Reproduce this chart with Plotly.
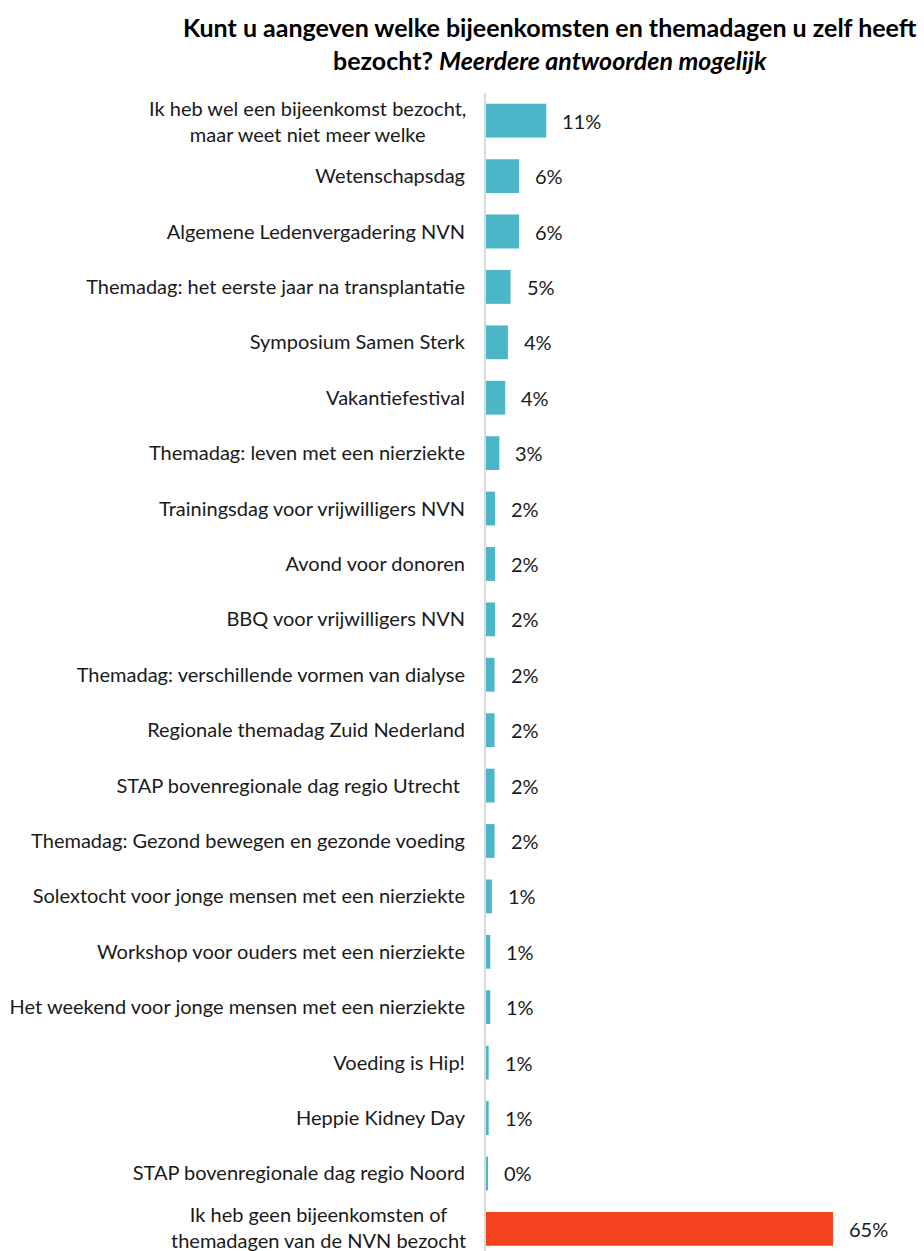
import plotly.graph_objects as go

categories = [
    "Ik heb wel een bijeenkomst bezocht,<br>maar weet niet meer welke",
    "Wetenschapsdag",
    "Algemene Ledenvergadering NVN",
    "Themadag: het eerste jaar na transplantatie",
    "Symposium Samen Sterk",
    "Vakantiefestival",
    "Themadag: leven met een nierziekte",
    "Trainingsdag voor vrijwilligers NVN",
    "Avond voor donoren",
    "BBQ voor vrijwilligers NVN",
    "Themadag: verschillende vormen van dialyse",
    "Regionale themadag Zuid Nederland",
    "STAP bovenregionale dag regio Utrecht ",
    "Themadag: Gezond bewegen en gezonde voeding",
    "Solextocht voor jonge mensen met een nierziekte",
    "Workshop voor ouders met een nierziekte",
    "Het weekend voor jonge mensen met een nierziekte",
    "Voeding is Hip!",
    "Heppie Kidney Day",
    "STAP bovenregionale dag regio Noord",
    "Ik heb geen bijeenkomsten of<br>themadagen van de NVN bezocht",
]
values = [11.3, 6.2, 6.2, 4.6, 4.1, 3.6, 2.5, 1.7, 1.7, 1.7, 1.6, 1.6, 1.6, 1.6,
          1.1, 0.8, 0.8, 0.5, 0.5, 0.3, 65.0]
pct_labels = ["11%", "6%", "6%", "5%", "4%", "4%", "3%", "2%", "2%", "2%", "2%",
              "2%", "2%", "2%", "1%", "1%", "1%", "1%", "1%", "0%", "65%"]
title_text = ("<b>Kunt u aangeven welke bijeenkomsten en themadagen u zelf heeft<br>"
              "bezocht? <i>Meerdere antwoorden mogelijk</i></b>")

TEAL = "#4BB6C7"
RED = "#F5431F"
colors = [TEAL] * (len(categories) - 1) + [RED]

FONT = "Lato"
TXT = "#1a1a1a"
multi = [c for c in categories if "<br>" in c]
ticktext = ["" if "<br>" in c else c for c in categories]

W, H = 924, 1251
ML, MT = 486, 93

fig = go.Figure(go.Bar(
    x=values, y=categories, orientation="h",
    marker=dict(color=colors, line=dict(width=0)),
    hoverinfo="skip",
))

annotations = []
for c, v, t in zip(categories, values, pct_labels):
    annotations.append(dict(x=v, y=c, xref="x", yref="y", text=t, showarrow=False,
                            xanchor="left", yanchor="middle", xshift=14,
                            font=dict(family=FONT, size=20, color=TXT)))
for i, c in enumerate(multi):
    annotations.append(dict(x=0, y=c, xref="paper", yref="y", text=c, showarrow=False,
                            xanchor="right", yanchor="middle", align="center", xshift=-18,
                            yshift=2 if i == len(multi) - 1 else 0,
                            font=dict(family=FONT, size=20, color=TXT)))
annotations.append(dict(x=(550 - ML) / (W - ML), y=1, xref="paper", yref="paper",
                        text=title_text, showarrow=False, xanchor="center",
                        yanchor="middle", align="center", yshift=50,
                        font=dict(family=FONT, size=25, color="#000000")))

fig.update_layout(
    width=W, height=H,
    margin=dict(l=ML, r=0, t=MT, b=0),
    paper_bgcolor="white", plot_bgcolor="white",
    bargap=0.39,
    showlegend=False,
    annotations=annotations,
    xaxis=dict(range=[0, 438 / 5.34], visible=False, fixedrange=True),
    yaxis=dict(
        type="category",
        range=[20.4, -0.5],
        tickmode="array", tickvals=categories, ticktext=ticktext,
        ticks="", showgrid=False, zeroline=False,
        showline=True, linecolor="#D9D9D9", linewidth=2,
        ticklabelstandoff=15,
        tickfont=dict(family=FONT, size=20, color=TXT),
    ),
)

fig.write_html("out.html")
